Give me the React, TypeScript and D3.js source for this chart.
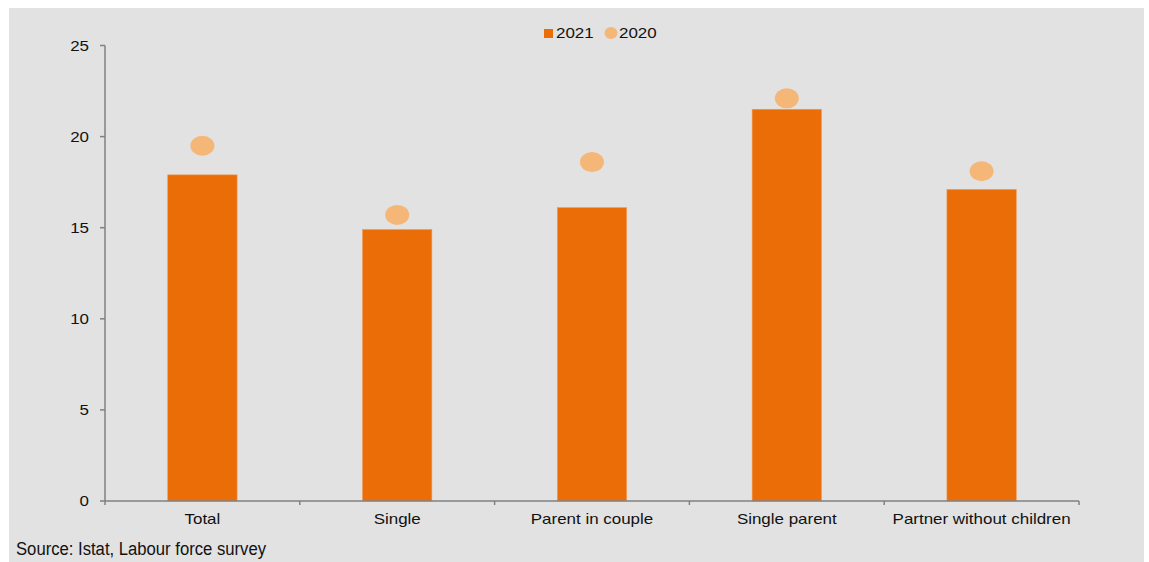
import React from "react";
import * as d3 from "d3";

const categories = ["Total", "Single", "Parent in couple", "Single parent", "Partner without children"];
const values2021 = [17.9, 14.9, 16.1, 21.5, 17.1];
const values2020 = [19.5, 15.7, 18.6, 22.1, 18.1];
const yTicks = [0, 5, 10, 15, 20, 25];
const seriesNames = ["2021", "2020"];
const sourceText = "Source: Istat, Labour force survey";

const W = 1149;
const H = 562;
const BAR = "#EB6D08";
const DOT = "#F5B777";
const AXIS = "#808080";
const FONT = "'Liberation Sans', Arial, sans-serif";
const SX = 1.13; // horizontal stretch of labels

type LabelProps = { x: number; y: number; anchor?: "start" | "middle" | "end"; dy?: string; size?: number; children: React.ReactNode };

function Label({ x, y, anchor = "start", dy, size = 15, children }: LabelProps) {
  return (
    <g transform={`translate(${x},${y}) scale(${SX},1)`}>
      <text textAnchor={anchor} dy={dy} fontFamily={FONT} fontSize={size} fill="#111">
        {children}
      </text>
    </g>
  );
}

export default function App() {
  const x = d3.scaleBand<string>().domain(categories).range([105, 1079]).paddingInner(0).paddingOuter(0);
  const y = d3.scaleLinear().domain([0, 25]).range([501, 45.5]);
  const bw = x.bandwidth() * 0.356;
  const edges = [...categories.map((c) => x(c) as number), 1079];

  return (
    <svg width={W} height={H} style={{ position: "absolute", left: 0, top: 0 }}>
      <rect x={9} y={8} width={1135} height={554} fill="#E2E2E2" />

      {/* bars for 2021 */}
      {categories.map((c, i) => (
        <rect
          key={c}
          x={(x(c) as number) + x.bandwidth() / 2 - bw / 2}
          y={y(values2021[i])}
          width={bw}
          height={y(0) - y(values2021[i])}
          fill={BAR}
          stroke="#F09A55"
          strokeWidth={0.6}
        />
      ))}

      {/* markers for 2020 */}
      {categories.map((c, i) => (
        <ellipse
          key={c}
          cx={(x(c) as number) + x.bandwidth() / 2}
          cy={y(values2020[i])}
          rx={12}
          ry={10}
          fill={DOT}
        />
      ))}

      {/* y axis */}
      <line x1={105} x2={105} y1={y(25)} y2={y(0)} stroke={AXIS} strokeWidth={1.5} />
      {yTicks.map((t) => (
        <g key={t}>
          <line x1={100} x2={105} y1={y(t)} y2={y(t)} stroke={AXIS} strokeWidth={1.5} />
          <Label x={89} y={y(t)} anchor="end" dy="0.35em">
            {t}
          </Label>
        </g>
      ))}

      {/* x axis */}
      <line x1={105} x2={1079} y1={y(0)} y2={y(0)} stroke={AXIS} strokeWidth={1.5} />
      {edges.map((e, i) => (
        <line key={i} x1={e} x2={e} y1={y(0)} y2={y(0) + 4} stroke={AXIS} strokeWidth={1.5} />
      ))}
      {categories.map((c) => (
        <Label key={c} x={(x(c) as number) + x.bandwidth() / 2} y={524} anchor="middle">
          {c}
        </Label>
      ))}

      {/* legend */}
      <rect x={544} y={29} width={9} height={9} fill={BAR} />
      <Label x={556} y={38}>
        {seriesNames[0]}
      </Label>
      <ellipse cx={611} cy={33} rx={6.5} ry={6} fill={DOT} />
      <Label x={619} y={38}>
        {seriesNames[1]}
      </Label>

      {/* source note */}
      <text
        x={16}
        y={555}
        fontFamily="'Liberation Sans Narrow', 'Arial Narrow', 'Liberation Sans', sans-serif"
        fontSize={18}
        fill="#111"
        textLength={250}
        lengthAdjust="spacingAndGlyphs"
      >
        {sourceText}
      </text>
    </svg>
  );
}
